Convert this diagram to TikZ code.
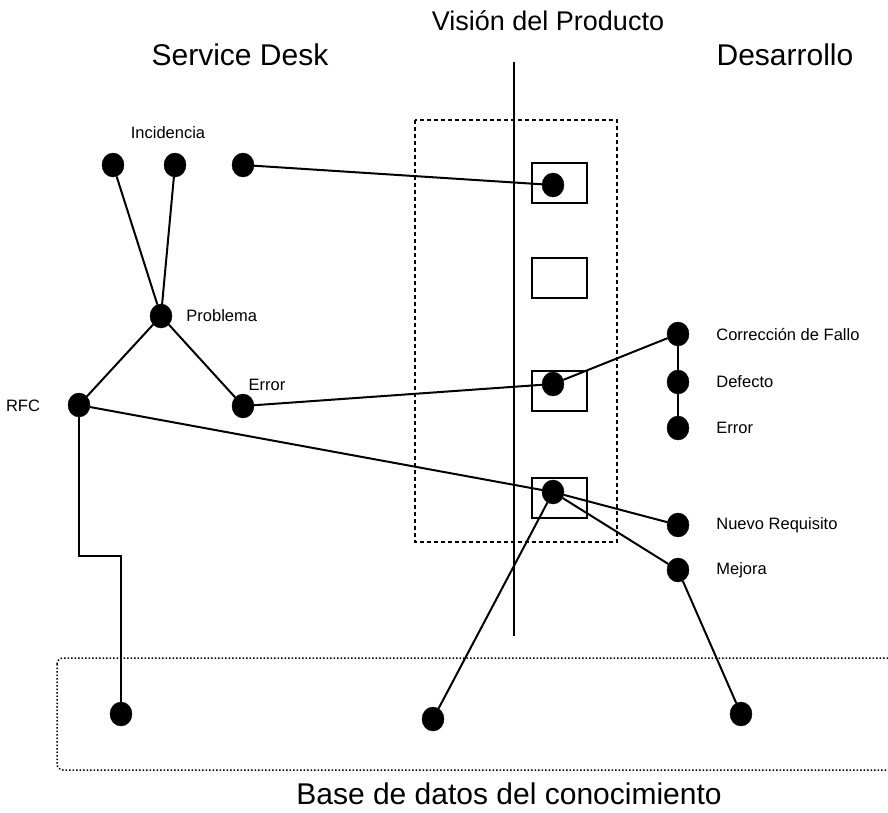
\documentclass[tikz,border=0pt]{standalone}
\usepackage{fontspec}
\setmainfont{Liberation Sans}
\usetikzlibrary{positioning}
\tikzset{
  punto/.style={ellipse, fill=black, draw=black, minimum width=22pt, minimum height=24pt, inner sep=0pt},
  caja/.style={rectangle, draw=black, line width=2pt, minimum width=55pt, minimum height=40pt, inner sep=0pt},
  titulo/.style={font=\fontsize{30}{33}\selectfont, inner sep=0pt},
  etiqueta/.style={font=\fontsize{16.5}{19}\selectfont, inner sep=0pt},
  enlace/.style={line width=2pt}
}
\usetikzlibrary{shapes.geometric}
\begin{document}
\begin{tikzpicture}[x=1pt, y=-1pt]
        \useasboundingbox (0,0) rectangle (888,812);

        % Titulos
        \node (vision) [titulo, font=\fontsize{27}{30}\selectfont] at (548,21) {Visión del Producto};
        \node (service) [titulo] at (240,55) {Service Desk};
        \node (desarrollo) [titulo] at (785,55) {Desarrollo};
        \node (base) [titulo] at (509,794) {Base de datos del conocimiento};

        % Vision del producto
        \coordinate (vtop) at (514,62);
        \coordinate (vbot) at (514,636);
        \draw [enlace] (vtop) -- (vbot);
        \draw [enlace, dash pattern=on 4pt off 3pt] (415,120) rectangle (617,542);
        \node (caja1) [caja] at (559.5,183) {};
        \node (caja2) [caja] at (559.5,278) {};
        \node (caja3) [caja] at (559.5,390.5) {};
        \node (caja4) [caja] at (559.5,497.5) {};
        \node (v1) [punto] at (553,185) {};
        \node (v3) [punto] at (553,384) {};
        \node (v4) [punto] at (553,492) {};

        % Service Desk
        \node (inc1) [punto] at (113,165) {};
        \node (inc2) [punto] at (175,165) {};
        \node (inc3) [punto] at (243,165) {};
        \node (lblinc) [etiqueta] at (168,133) {Incidencia};
        \node (problema) [punto] at (161,316) {};
        \node (lblproblema) [etiqueta, right=14pt of problema] {Problema};
        \node (rfc) [punto] at (79,405) {};
        \node (lblrfc) [etiqueta] at (23,406) {RFC};
        \node (error) [punto] at (243,406) {};
        \node (lblerror) [etiqueta] at (267,385) {Error};

        % Desarrollo
        \node (correccion) [punto] at (678,334) {};
        \node (defecto) [punto] at (678,382) {};
        \node (error2) [punto] at (678,428) {};
        \node (nuevo) [punto] at (678,525) {};
        \node (mejora) [punto] at (678,570) {};
        \node (lblcorreccion) [etiqueta, right=27pt of correccion] {Corrección de Fallo};
        \node (lbldefecto) [etiqueta, right=27pt of defecto] {Defecto};
        \node (lblerror2) [etiqueta, right=27pt of error2] {Error};
        \node (lblnuevo) [etiqueta, right=27pt of nuevo] {Nuevo Requisito};
        \node (lblmejora) [etiqueta, right=27pt of mejora] {Mejora};

        % Base de datos del conocimiento
        \draw [line width=1.5pt, dotted, rounded corners=6pt] (57,658) rectangle (910,770);
        \node (bd1) [punto] at (121,714) {};
        \node (bd2) [punto] at (433,719) {};
        \node (bd3) [punto] at (741,714) {};
        \coordinate (codo) at (121,556);

        % Enlaces
        \draw [enlace] (inc1) -- (problema);
        \draw [enlace] (inc2) -- (problema);
        \draw [enlace] (inc3) -- (v1);
        \draw [enlace] (problema) -- (rfc);
        \draw [enlace] (problema) -- (error);
        \draw [enlace] (error) -- (v3);
        \draw [enlace] (v3) -- (correccion);
        \draw [enlace] (correccion) -- (defecto);
        \draw [enlace] (defecto) -- (error2);
        \draw [enlace] (rfc) -- (v4);
        \draw [enlace] (v4) -- (nuevo);
        \draw [enlace] (v4) -- (mejora);
        \draw [enlace] (v4) -- (bd2);
        \draw [enlace] (mejora) -- (bd3);
        \draw [enlace] (rfc) |- (codo) -- (bd1);
\end{tikzpicture}
\end{document}
